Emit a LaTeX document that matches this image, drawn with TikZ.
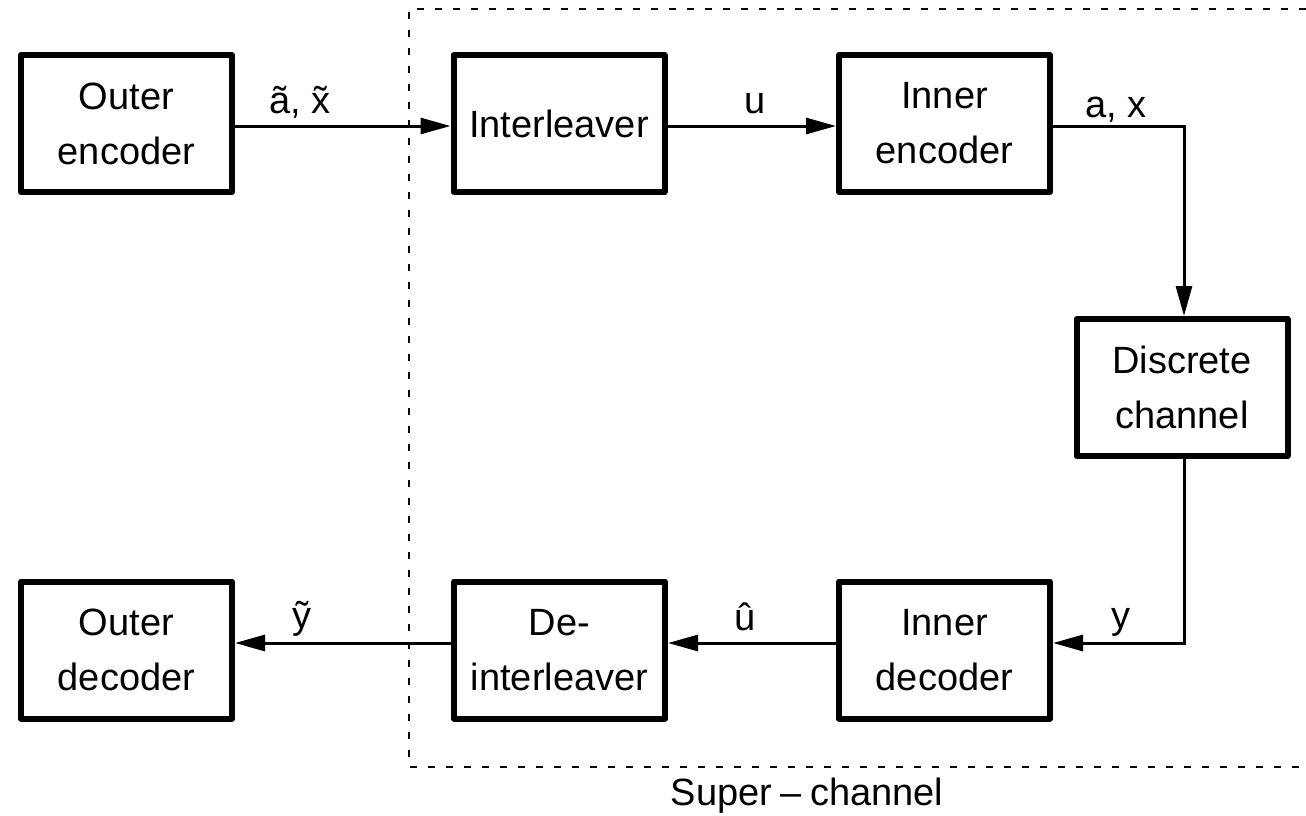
\documentclass[tikz,border=0pt]{standalone}
\usepackage{fontspec}
\setmainfont{Liberation Sans}
\usetikzlibrary{arrows.meta,calc}
\begin{document}
\begin{tikzpicture}[x=1pt,y=-1pt,
  block/.style={draw, line width=6pt, line join=round, minimum width=211pt,
    minimum height=137pt, align=center, inner sep=0pt,
    font=\fontsize{38}{55}\selectfont},
  flow/.style={line width=3pt, -{Triangle[length=30pt,width=16pt]}},
  plain/.style={line width=3pt},
  sig/.style={anchor=base, inner sep=0pt, font=\fontsize{38}{46}\selectfont},
  frame/.style={line width=1.1pt, dash pattern=on 7pt off 11pt},
  ]
\useasboundingbox (0,0) rectangle (1306,815);

% super-channel frame (open on the right)
\coordinate (ftr) at (1306,9);
\coordinate (ftl) at (409,9);
\coordinate (fbl) at (409,767);
\coordinate (fbr) at (1306,767);
\draw[frame] (ftr) -- (ftl) -- (fbl) -- (fbr);
\node[sig] (sc) at (807,805) {Super\kern0.22em–\kern0.22em channel};

% blocks
\node[block] (oenc) at (126.5,123.5) {Outer\\encoder};
\node[block] (intl) at (559,123.5) {Interleaver};
\node[block] (ienc) at (944.5,123.5) {Inner\\encoder};
\node[block] (disc) at (1182,387.5) {Discrete\\channel};
\node[block] (odec) at (126.5,650) {Outer\\decoder};
\node[block] (dint) at (559.5,650) {De-\\interleaver};
\node[block] (idec) at (944.5,650) {Inner\\decoder};

% connectors
\draw[flow] ([yshift=-2.5pt]oenc.east) -- ([yshift=-2.5pt]intl.west);
\draw[flow] ([yshift=-2.5pt]intl.east) -- ([yshift=-2.5pt]ienc.west);
\draw[flow] ([yshift=-2.5pt]ienc.east) -| ([xshift=2pt]disc.north);
\draw[flow] ([xshift=2pt]disc.south) |- ([yshift=7pt]idec.east);
\draw[flow] ([yshift=7pt]idec.west) -- ([yshift=7pt]dint.east);
\draw[flow] ([yshift=7pt]dint.west) -- ([yshift=7pt]odec.east);

% signal labels
\node[sig] (lax) at (300,113) {\~{a}, \~{x}};
\node[sig] (lu) at (755,113) {u};
\node[sig] (lx) at (1116,117) {a, x};
\node[sig] (ly) at (1121,628) {y};
\node[sig] (luh) at (745,630) {\^{u}};
\node[sig] (lyt) at (302,628) {\~{y}};
\end{tikzpicture}
\end{document}
